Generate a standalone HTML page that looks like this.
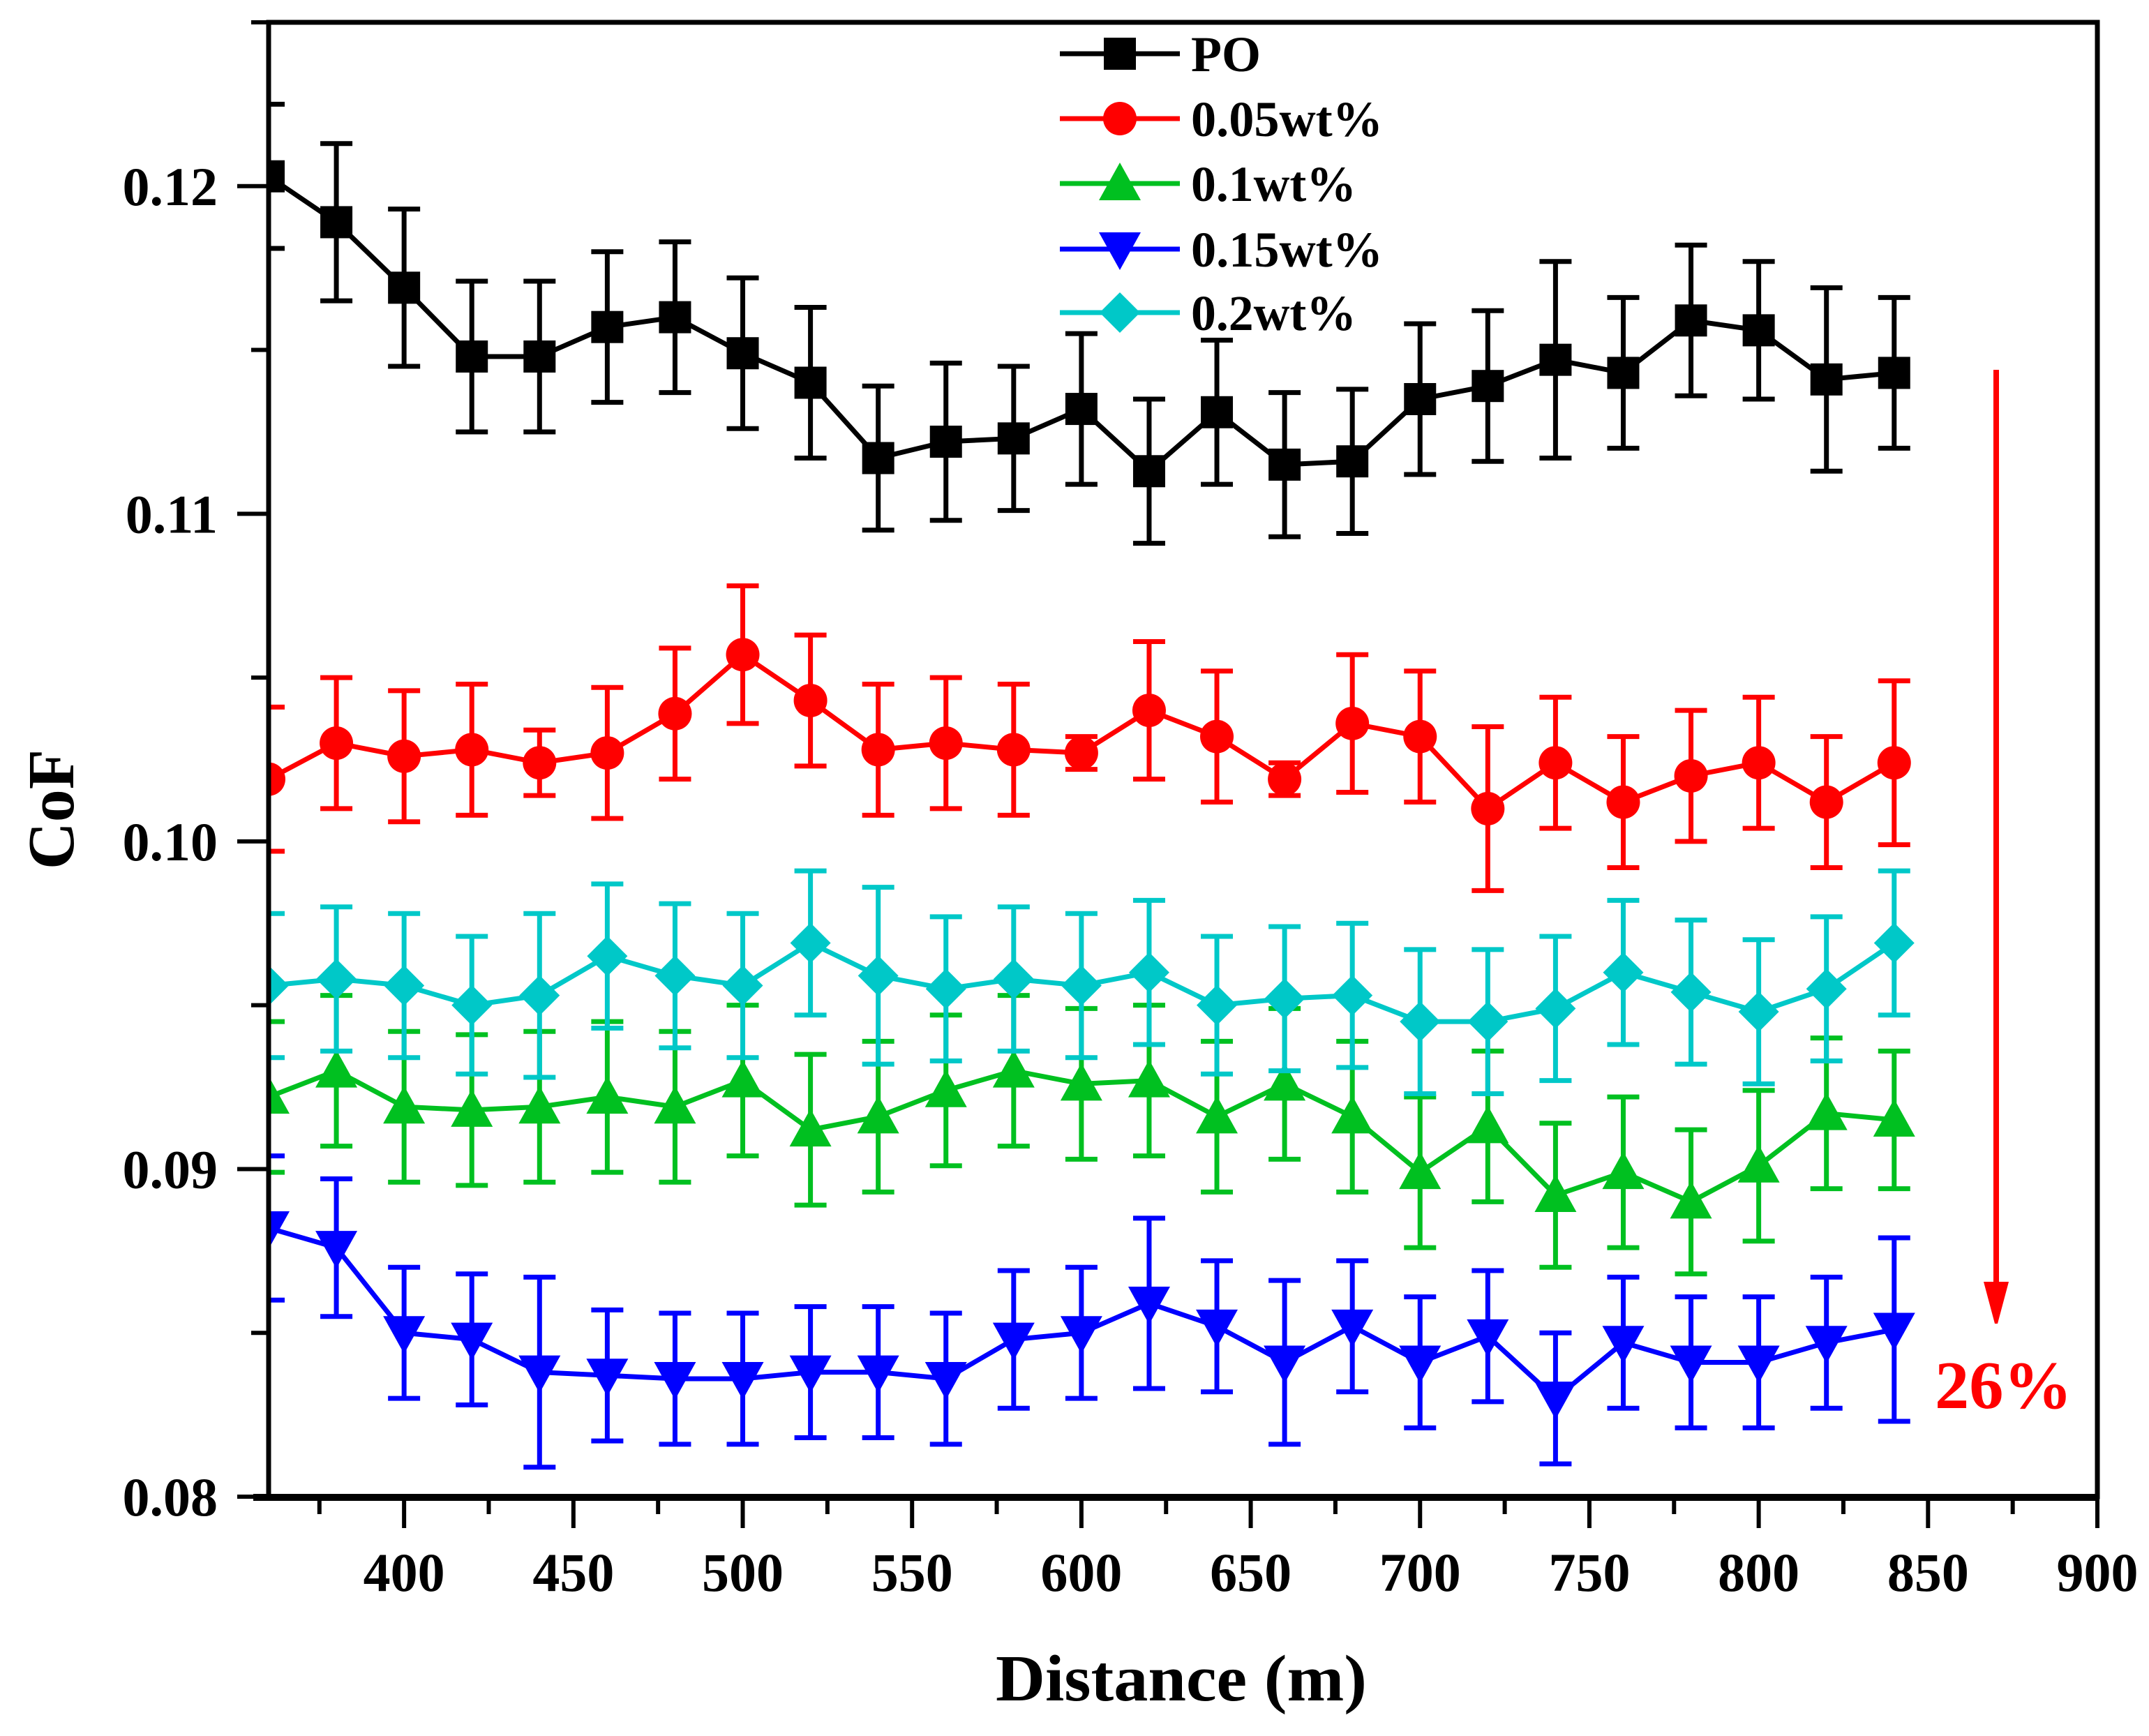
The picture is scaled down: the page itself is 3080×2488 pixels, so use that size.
<!DOCTYPE html>
<html><head><meta charset="utf-8"><style>
html,body{margin:0;padding:0;background:#fff;}
svg{display:block;font-family:"Liberation Serif",serif;font-weight:bold;}
</style></head><body>
<svg id="chart" xmlns="http://www.w3.org/2000/svg" width="3080" height="2488" viewBox="0 0 3080 2488"></svg>
<script>
const distances = [360,380,400,420,440,460,480,500,520,540,560,580,600,620,640,660,680,700,720,740,760,780,800,820,840];
const poValues = [0.1203,0.1189,0.1169,0.1148,0.1148,0.1157,0.1160,0.1149,0.1140,0.1117,0.1122,0.1123,0.1132,0.1113,0.1131,0.1115,0.1116,0.1135,0.1139,0.1147,0.1143,0.1159,0.1156,0.1141,0.1143];
const poErrors = [0.0022,0.0024,0.0024,0.0023,0.0023,0.0023,0.0023,0.0023,0.0023,0.0022,0.0024,0.0022,0.0023,0.0022,0.0022,0.0022,0.0022,0.0023,0.0023,0.003,0.0023,0.0023,0.0021,0.0028,0.0023];
const w005Values = [0.1019,0.1030,0.1026,0.1028,0.1024,0.1027,0.1039,0.1057,0.1043,0.1028,0.1030,0.1028,0.1027,0.1040,0.1032,0.1019,0.1036,0.1032,0.1010,0.1024,0.1012,0.1020,0.1024,0.1012,0.1024];
const w005Errors = [0.0022,0.002,0.002,0.002,0.001,0.002,0.002,0.0021,0.002,0.002,0.002,0.002,0.0005,0.0021,0.002,0.0005,0.0021,0.002,0.0025,0.002,0.002,0.002,0.002,0.002,0.0025];
const w01Values = [0.0922,0.0930,0.0919,0.0918,0.0919,0.0922,0.0919,0.0927,0.0912,0.0916,0.0924,0.0930,0.0926,0.0927,0.0916,0.0926,0.0916,0.0899,0.0913,0.0892,0.0899,0.0890,0.0901,0.0917,0.0915];
const w01Errors = [0.0023,0.0023,0.0023,0.0023,0.0023,0.0023,0.0023,0.0023,0.0023,0.0023,0.0023,0.0023,0.0023,0.0023,0.0023,0.0023,0.0023,0.0023,0.0023,0.0022,0.0023,0.0022,0.0023,0.0023,0.0021];
const w015Values = [0.0882,0.0876,0.0850,0.0848,0.0838,0.0837,0.0836,0.0836,0.0838,0.0838,0.0836,0.0848,0.0850,0.0859,0.0852,0.0841,0.0852,0.0841,0.0849,0.0830,0.0847,0.0841,0.0841,0.0847,0.0851];
const w015Errors = [0.0022,0.0021,0.002,0.002,0.0029,0.002,0.002,0.002,0.002,0.002,0.002,0.0021,0.002,0.0026,0.002,0.0025,0.002,0.002,0.002,0.002,0.002,0.002,0.002,0.002,0.0028];
const w02Values = [0.0956,0.0958,0.0956,0.0950,0.0953,0.0965,0.0959,0.0956,0.0969,0.0959,0.0955,0.0958,0.0956,0.0960,0.0950,0.0952,0.0953,0.0945,0.0945,0.0949,0.0960,0.0954,0.0948,0.0955,0.0969];
const w02Errors = [0.0022,0.0022,0.0022,0.0021,0.0025,0.0022,0.0022,0.0022,0.0022,0.0027,0.0022,0.0022,0.0022,0.0022,0.0021,0.0022,0.0022,0.0022,0.0022,0.0022,0.0022,0.0022,0.0022,0.0022,0.0022];
const seriesNames = ["PO","0.05wt%","0.1wt%","0.15wt%","0.2wt%"];
const xTicks = [400,450,500,550,600,650,700,750,800,850,900];
const yTicks = [0.08,0.09,0.10,0.11,0.12];
const yTickLabels = ["0.08","0.09","0.10","0.11","0.12"];

const NS="http://www.w3.org/2000/svg";
const svg=document.getElementById('chart');
const L=385,R=3006,T=32,B=2145;
const xMin=360,xMax=900,yMin=0.08,yMax=0.125;
function xs(v){return L+(v-xMin)/(xMax-xMin)*(R-L);}
function ys(v){return B-(v-yMin)/(yMax-yMin)*(B-T);}
function el(tag,attrs,parent){const e=document.createElementNS(NS,tag);for(const k in attrs)e.setAttribute(k,attrs[k]);(parent||svg).appendChild(e);return e;}

const defs=el('defs',{});
const cp=el('clipPath',{id:'plotclip'},defs);
el('rect',{x:L,y:T,width:R-L,height:B-T},cp);

function marker(g,type,cx,cy,color){
  let m;
  if(type==='square') m=el('rect',{x:cx-23,y:cy-23,width:46,height:46,fill:color},g);
  else if(type==='circle') m=el('circle',{cx:cx,cy:cy,r:24,fill:color},g);
  else if(type==='up') m=el('polygon',{points:`${cx},${cy-30} ${cx+30},${cy+24} ${cx-30},${cy+24}`,fill:color},g);
  else if(type==='down') m=el('polygon',{points:`${cx},${cy+30} ${cx+30},${cy-24} ${cx-30},${cy-24}`,fill:color},g);
  else m=el('polygon',{points:`${cx},${cy-29} ${cx+29},${cy} ${cx},${cy+29} ${cx-29},${cy}`,fill:color},g);
  return m;
}

const series=[
 {vals:poValues,errs:poErrors,color:'#000000',type:'square',key:'po'},
 {vals:w005Values,errs:w005Errors,color:'#ff0000',type:'circle',key:'0-05wt'},
 {vals:w01Values,errs:w01Errors,color:'#00c020',type:'up',key:'0-1wt'},
 {vals:w015Values,errs:w015Errors,color:'#0000ff',type:'down',key:'0-15wt'},
 {vals:w02Values,errs:w02Errors,color:'#00c8c8',type:'diamond',key:'0-2wt'}
];

series.forEach((s,si)=>{
  const g=el('g',{'clip-path':'url(#plotclip)'});
  
  
  s.vals.forEach((v,i)=>{
    const x=xs(distances[i]),y1=ys(v+s.errs[i]),y2=ys(v-s.errs[i]);
    const eb=el('path',{d:`M${x},${y1}V${y2}M${x-23},${y1}H${x+23}M${x-23},${y2}H${x+23}`,stroke:s.color,'stroke-width':7,fill:'none'},g);
    
    
  });
  const pts=s.vals.map((v,i)=>xs(distances[i])+','+ys(v)).join(' ');
  const line=el('polyline',{points:pts,fill:'none',stroke:s.color,'stroke-width':7},g);
  
  
  s.vals.forEach((v,i)=>{
    const m=marker(g,s.type,xs(distances[i]),ys(v),s.color);
    
    
  });
});

// axes
const ax=el('g',{});


el('rect',{x:L,y:T,width:R-L,height:B-T,fill:'none',stroke:'#000','stroke-width':7},ax);
el('line',{x1:L-22,y1:B+1,x2:R,y2:B+1,stroke:'#000','stroke-width':10},ax);
for(let v=375;v<=900;v+=25){
  const major=(v%50===0);
  el('line',{x1:xs(v),y1:B,x2:xs(v),y2:B+(major?45:25),stroke:'#000','stroke-width':6},ax);
}
xTicks.forEach(v=>{
  const t=el('text',{x:xs(v),y:2280,'text-anchor':'middle','font-size':78},ax);
  t.textContent=v;
  
  
});
for(let k=0;k<=9;k++){
  const v=0.08+k*0.005;const major=(k%2===0);
  el('line',{x1:major?340:360,y1:ys(v),x2:L,y2:ys(v),stroke:'#000','stroke-width':6},ax);
}
yTicks.forEach((v,i)=>{
  const t=el('text',{x:312,y:ys(v)+27,'text-anchor':'end','font-size':78},ax);
  t.textContent=yTickLabels[i];
  
  
});
const xt=el('text',{x:1427,y:2437,'font-size':94,textLength:532,lengthAdjust:'spacingAndGlyphs'});
xt.textContent='Distance (m)';


const yt=el('text',{x:0,y:0,'text-anchor':'middle','font-size':94,transform:'translate(105,1160) rotate(-90)'});
yt.textContent='CoF';



// legend
const lg=el('g',{});


const legY=[77,170,263,357,448];
const legW=[100,275,237,275,237];
series.forEach((s,i)=>{
  const g=el('g',{},lg);
  
  
  el('line',{x1:1519,y1:legY[i],x2:1691,y2:legY[i],stroke:s.color,'stroke-width':7},g);
  marker(g,s.type,1605,legY[i],s.color);
  const t=el('text',{x:1707,y:legY[i]+25,'font-size':72,textLength:legW[i],lengthAdjust:'spacingAndGlyphs'},g);
  t.textContent=seriesNames[i];
});

// arrow annotation
const ar=el('g',{});


el('line',{x1:2861,y1:530,x2:2861,y2:1845,stroke:'#ff0000','stroke-width':8},ar);
el('polygon',{points:'2843,1837 2879,1837 2863,1897 2859,1897',fill:'#ff0000'},ar);
const pct=el('text',{x:2773,y:2018,'font-size':98,fill:'#ff0000',textLength:197,lengthAdjust:'spacingAndGlyphs'});
pct.textContent='26%';


</script>
</body></html>
